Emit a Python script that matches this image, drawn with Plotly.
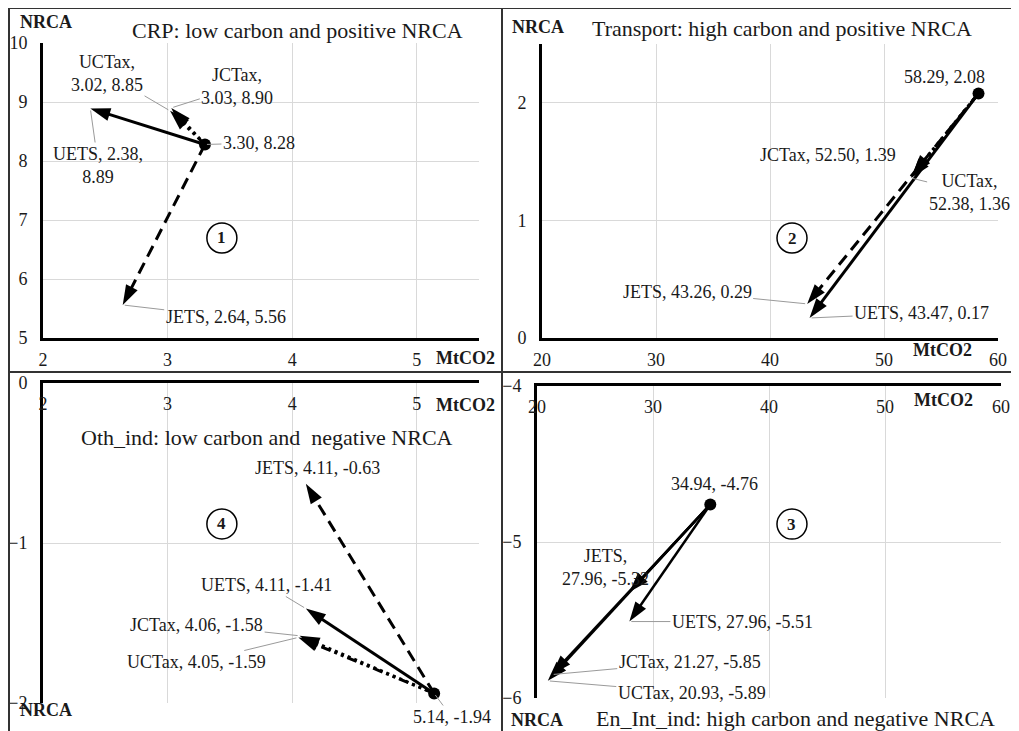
import plotly.graph_objects as go

# ---------------- data ----------------
sectors = ["CRP", "Transport", "En_Int_ind", "Oth_ind"]
titles = ["CRP: low carbon and positive NRCA",
          "Transport: high carbon and positive NRCA",
          "En_Int_ind: high carbon and negative NRCA",
          "Oth_ind: low carbon and  negative NRCA"]
panel_numbers = ["1", "2", "3", "4"]

base_x = [3.30, 58.29, 34.94, 5.14]
base_y = [8.28, 2.08, -4.76, -1.94]

policies = ["UCTax", "JCTax", "JETS", "UETS"]
uctax_x = [3.02, 52.38, 20.93, 4.05]
uctax_y = [8.85, 1.36, -5.89, -1.59]
jctax_x = [3.03, 52.50, 21.27, 4.06]
jctax_y = [8.90, 1.39, -5.85, -1.58]
jets_x = [2.64, 43.26, 27.96, 4.11]
jets_y = [5.56, 0.29, -5.32, -0.63]
uets_x = [2.38, 43.47, 27.96, 4.11]
uets_y = [8.89, 0.17, -5.51, -1.41]

x_ranges = [[2, 5.5], [20, 60], [20, 60], [2, 5.5]]
y_ranges = [[5, 10], [0, 2.5], [-6, -4], [-2, 0]]
x_dticks = [1, 10, 10, 1]
y_dticks = [1, 1, 1, 1]

# ---------------- layout / style ----------------
OFF = 8                      # page body margin of the html page
W, H = 1019 - OFF, 731 - OFF
FONT = "Liberation Serif, Times New Roman, serif"


def fx(p):
    return (p - OFF) / W


def fy(p):
    return 1 - (p - OFF) / H


# pixel boxes (in the reference picture) of each plotting area: (left, right, top, bottom)
boxes = [(43, 479, 43, 338), (542, 998, 44, 338), (537, 1001, 386, 698), (43, 479, 383, 703)]
xaxis_top = [False, False, True, True]
title_pos = [(297, 30), (782, 28), (795, 718), (267, 437)]
nrca_pos = [(46, 22), (538, 27), (537, 720), (46, 710)]
mt_pos = [(465, 358), (942, 350), (943, 400), (465, 405)]
circle_pos = [(3.436, 6.695), (41.93, 0.85), (41.98, -4.885), (3.436, -0.881)]

styles = {
    "UETS": "solid",
    "JETS": "12px,7px",
    "JCTax": "3px,4px",
    "UCTax": "10px,4px,3px,4px,3px,4px",
}
solid_panels = [False, False, True, False]
line_widths = [3, 3, 2.5, 3]

# label placement: (dx, dy, linebreak mode, leader?)
label_cfg = [
    {"base": (54, -1.5, "none", True), "UCTax": (-63, -37, "name", True), "JCTax": (66, -21, "name", True),
     "UETS": (8, 57, "x", True), "JETS": (103, 12, "none", True)},
    {"base": (-34.5, -16, "none", False), "JCTax": (-85, -20, "none", False), "UCTax": (58, 14, "name", True),
     "JETS": (-120, -12, "none", True), "UETS": (112, -5, "none", True)},
    {"base": (4, -20.6, "none", False), "JETS": (-24, -24, "name", False), "UETS": (113, 0, "none", True),
     "JCTax": (138, -12.6, "none", True), "UCTax": (144, 12, "none", True)},
    {"base": (17.5, 23.6, "none", True), "JETS": (12, -16, "none", False), "UETS": (-39, -23.6, "none", True),
     "JCTax": (-103, -11, "none", True), "UCTax": (-101.6, 24.6, "none", True)},
]

pol_x = {"UCTax": uctax_x, "JCTax": jctax_x, "JETS": jets_x, "UETS": uets_x}
pol_y = {"UCTax": uctax_y, "JCTax": jctax_y, "JETS": jets_y, "UETS": uets_y}


def fmt_label(name, x, y, mode):
    if name is None:
        return f"{x:.2f}, {y:.2f}"
    if mode == "name":
        return f"{name},<br>{x:.2f}, {y:.2f}"
    if mode == "x":
        return f"{name}, {x:.2f},<br>{y:.2f}"
    return f"{name}, {x:.2f}, {y:.2f}"


fig = go.Figure()
layout = dict(width=W, height=H, margin=dict(l=0, r=0, t=0, b=0, pad=0, autoexpand=False),
              paper_bgcolor="white", plot_bgcolor="white", showlegend=False,
              font=dict(family=FONT, size=18, color="#1a1a1a"))
annotations = []
shapes = []

for i in range(4):
    n = "" if i == 0 else str(i + 1)
    xa, ya = "x" + n, "y" + n
    l, r, t, b = boxes[i]
    top = xaxis_top[i]
    layout["xaxis" + n] = dict(
        domain=[fx(l), fx(r)], range=x_ranges[i], dtick=x_dticks[i], tick0=x_ranges[i][0],
        anchor=ya, side="top" if top else "bottom",
        showline=True, linewidth=3, linecolor="black",
        showgrid=True, gridcolor="#d9d9d9", gridwidth=1, zeroline=False,
        ticks="", ticklabelposition="inside" if top else "outside",
        ticklabeloverflow="allow", ticklabelstandoff=15 if top else 3,
        tickfont=dict(family=FONT, size=18, color="#1a1a1a"), fixedrange=True)
    layout["yaxis" + n] = dict(
        domain=[fy(b), fy(t)], range=y_ranges[i], dtick=y_dticks[i], tick0=y_ranges[i][0],
        anchor=xa, side="left",
        showline=True, linewidth=3, linecolor="black",
        showgrid=True, gridcolor="#d9d9d9", gridwidth=1, zeroline=False,
        ticks="", ticklabelstandoff=9, ticklabeloverflow="allow",
        tickfont=dict(family=FONT, size=18, color="#1a1a1a"), fixedrange=True)

    # arrows
    for pol in policies:
        dash = "solid" if solid_panels[i] else styles[pol]
        fig.add_trace(go.Scatter(
            x=[base_x[i], pol_x[pol][i]], y=[base_y[i], pol_y[pol][i]],
            xaxis=xa, yaxis=ya, mode="lines+markers", hoverinfo="skip",
            line=dict(color="black", width=line_widths[i], dash=dash),
            marker=dict(symbol=["circle", "arrow"], size=[0, 21], angleref="previous",
                        color="black", opacity=1, line=dict(width=0))))
    fig.add_trace(go.Scatter(x=[base_x[i]], y=[base_y[i]], xaxis=xa, yaxis=ya, mode="markers",
                             hoverinfo="skip", marker=dict(symbol="circle", size=12, color="black")))

    # point labels
    cfg = label_cfg[i]
    for key, (dx, dy, mode, leader) in cfg.items():
        if key == "base":
            px_, py_, name = base_x[i], base_y[i], None
        else:
            px_, py_, name = pol_x[key][i], pol_y[key][i], key
        annotations.append(dict(
            x=px_, y=py_, xref=xa, yref=ya, text=fmt_label(name, px_, py_, mode),
            showarrow=True, ax=dx, ay=dy, axref="pixel", ayref="pixel",
            arrowhead=0, arrowwidth=1, standoff=2, startstandoff=0,
            arrowcolor="#9a9a9a" if leader else "rgba(0,0,0,0)",
            font=dict(family=FONT, size=18, color="#1a1a1a"), align="center"))

    # titles and axis names
    tx, ty = title_pos[i]
    annotations.append(dict(x=fx(tx), y=fy(ty), xref="paper", yref="paper", text=titles[i],
                            xanchor="center", yanchor="middle",
                            showarrow=False, font=dict(family=FONT, size=22, color="#1a1a1a")))
    nx, ny = nrca_pos[i]
    annotations.append(dict(x=fx(nx), y=fy(ny), xref="paper", yref="paper", text="<b>NRCA</b>",
                            xanchor="center", yanchor="middle",
                            showarrow=False, font=dict(family=FONT, size=18, color="#1a1a1a")))
    mx, my = mt_pos[i]
    annotations.append(dict(x=fx(mx), y=fy(my), xref="paper", yref="paper", text="<b>MtCO2</b>",
                            xanchor="center", yanchor="middle",
                            showarrow=False, font=dict(family=FONT, size=18, color="#1a1a1a")))
    # circled panel number
    cx, cy = circle_pos[i]
    shapes.append(dict(type="circle", xref=xa, yref=ya, xsizemode="pixel", ysizemode="pixel",
                       xanchor=cx, yanchor=cy, x0=-15, x1=15, y0=-15, y1=15,
                       line=dict(color="black", width=1.5)))
    annotations.append(dict(x=cx, y=cy, xref=xa, yref=ya, text="<b>" + panel_numbers[i] + "</b>",
                            xanchor="center", yanchor="middle",
                            showarrow=False, font=dict(family=FONT, size=17, color="#1a1a1a")))

# frame lines
frame = [(9, 8, 1019, 8), (9, 8, 9, 731), (502, 8, 502, 731), (9, 372, 1019, 372)]
for x0, y0, x1, y1 in frame:
    shapes.append(dict(type="line", xref="paper", yref="paper", x0=fx(x0), y0=fy(y0),
                       x1=fx(x1), y1=fy(y1), line=dict(color="#333333", width=2)))

layout["annotations"] = annotations
layout["shapes"] = shapes
fig.update_layout(**layout)
fig.write_html("out.html")
